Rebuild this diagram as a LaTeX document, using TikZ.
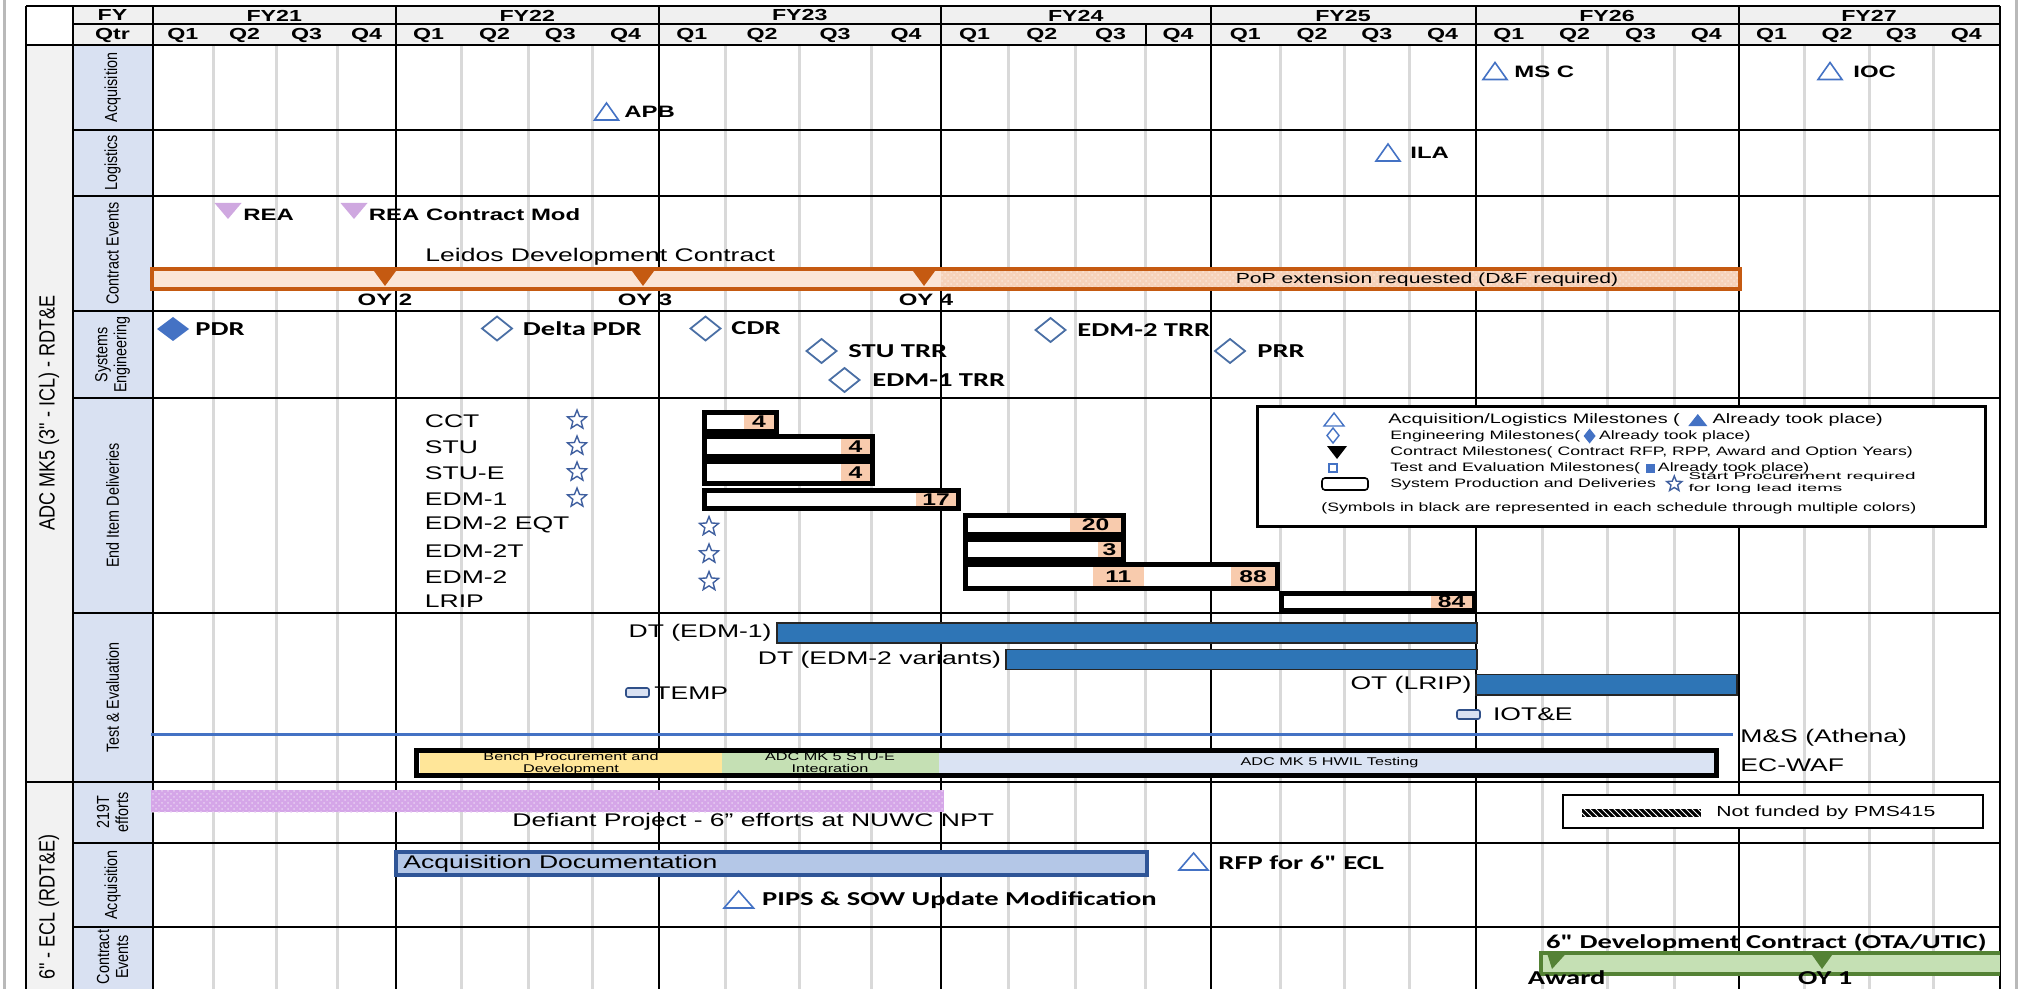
\documentclass[tikz,border=0pt]{standalone}
\usepackage{fontspec}
\setmainfont[FakeStretch=1.45]{Liberation Sans}
\newfontfamily\calfont[FakeStretch=1.45]{Carlito}
\newfontfamily\narrowfont[FakeStretch=0.82]{Liberation Sans}
\newfontfamily\widefont[FakeStretch=1.9]{Liberation Sans}
\usetikzlibrary{shapes.geometric,patterns}
\definecolor{mblue}{HTML}{4472C4}
\definecolor{dblue}{HTML}{4A6FA5}
\definecolor{starblue}{HTML}{3F5F9F}
\definecolor{lav}{HTML}{CFA8E0}
\definecolor{oran}{HTML}{C55A11}
\definecolor{lorange}{HTML}{FBE5D6}
\definecolor{horange}{HTML}{F6D2BA}
\definecolor{cellor}{HTML}{F8CBAD}
\definecolor{tblue}{HTML}{2E75B6}
\definecolor{yel}{HTML}{FFE699}
\definecolor{grn}{HTML}{C5E0B4}
\definecolor{lblue}{HTML}{DAE3F3}
\definecolor{docfill}{HTML}{B4C7E7}
\definecolor{docline}{HTML}{2F5597}
\definecolor{dgreen}{HTML}{548235}
\definecolor{purp}{HTML}{D5A6E8}
\definecolor{subfill}{HTML}{D9E1F2}
\definecolor{grpfill}{HTML}{F2F2F2}
\definecolor{hdrfill}{HTML}{F0F0F0}
\definecolor{gridgray}{HTML}{D9D9D9}
\tikzset{
  hdr/.style={font=\fontsize{8}{9.6}\selectfont\bfseries, inner sep=0pt},
  lbl/.style={font=\fontsize{9.15}{11}\selectfont, inner sep=0pt},
  blbl/.style={font=\fontsize{8.25}{10}\selectfont\bfseries, inner sep=0pt},
  cal/.style={font=\calfont\bfseries\fontsize{9.85}{12}\selectfont, inner sep=0pt},
  sublbl/.style={font=\narrowfont\fontsize{8.75}{9.5}\selectfont, inner sep=0pt, rotate=90, align=center},
  grplbl/.style={font=\narrowfont\fontsize{11}{13}\selectfont, inner sep=0pt, rotate=90},
  numtxt/.style={font=\fontsize{8.5}{10}\selectfont\bfseries, inner sep=0pt},
  lgA/.style={font=\fontsize{6.85}{8}\selectfont, inner sep=0pt, anchor=west},
  lgB/.style={font=\fontsize{6.1}{7}\selectfont, inner sep=0pt, anchor=west},
  lgC/.style={font=\widefont\fontsize{4.95}{4.6}\selectfont, inner sep=0pt, anchor=west, align=left},
  smalltxt/.style={font=\fontsize{5.6}{5.9}\selectfont, inner sep=0pt, align=center},
  poptxt/.style={font=\fontsize{7.3}{8}\selectfont, inner sep=0pt},
  gridl/.style={gridgray, line width=1.5pt},
  blk/.style={black, line width=1pt},
  mtri/.style={mblue, line width=0.8pt, fill=white},
  mdia/.style={dblue, line width=0.9pt, fill=white},
  ebar/.style={draw=black, line width=2.5pt, fill=white},
  tbar/.style={fill=tblue, draw=black!85, line width=0.9pt},
  pstar/.style={star, star points=5, star point ratio=2.3, draw=starblue, line width=0.7pt, minimum size=10pt, inner sep=0pt},
}
\begin{document}
\begin{tikzpicture}[x=0.5pt,y=-0.5pt]
\useasboundingbox (0,0) rectangle (2021,989);
\clip (0,0) rectangle (2021,989);
% page borders
\draw[gray!55, line width=1.5pt] (4,0) -- (4,989);
\draw[gray!55, line width=1.5pt] (2016,0) -- (2016,989);
% fills
\fill[hdrfill] (73,6) rectangle (1999.5,45);
\fill[grpfill] (26,45) rectangle (73,989);
\fill[subfill] (73,45) rectangle (152.5,989);
% grid
\foreach \x in {213,276,337,461,528,592.5,725,799,871,1008,1075.5,1145.5,1280,1344,1409.5,1542,1607,1674,1804.5,1869.5,1933}
  \draw[gridl] (\x,45) -- (\x,989);
\foreach \x in {26,73,152.5,396,658.5,941,1210.5,1475.5,1738.5,1999.5}
  \draw[blk] (\x,6) -- (\x,989);
\draw[blk] (26,6) -- (1999.5,6);
\draw[blk] (73,24.5) -- (1999.5,24.5);
\draw[blk] (26,45) -- (1999.5,45);
\draw[blk] (1145.5,24.5) -- (1145.5,45);
\foreach \y in {130,196,311,398,613,843,927}
  \draw[blk] (73,\y) -- (1999.5,\y);
\draw[blk] (26,782) -- (1999.5,782);
% header text
\node[hdr] (fy) at (112.5,15.5) {FY};
\node[hdr] (qtr) at (112.5,35) {Qtr};
\foreach \a/\b/\t in {152.5/396/FY21,396/658.5/FY22,658.5/941/FY23,941/1210.5/FY24,1210.5/1475.5/FY25,1475.5/1738.5/FY26,1738.5/1999.5/FY27}
  \node[hdr] (h\t) at ({(\a+\b)/2},15.5) {\t};
\foreach \a/\b/\q [count=\i] in {152.5/213/Q1,213/276/Q2,276/337/Q3,337/396/Q4,396/461/Q1,461/528/Q2,528/592.5/Q3,592.5/658.5/Q4,658.5/725/Q1,725/799/Q2,799/871/Q3,871/941/Q4,941/1008/Q1,1008/1075.5/Q2,1075.5/1145.5/Q3,1145.5/1210.5/Q4,1210.5/1280/Q1,1280/1344/Q2,1344/1409.5/Q3,1409.5/1475.5/Q4,1475.5/1542/Q1,1542/1607/Q2,1607/1674/Q3,1674/1738.5/Q4,1738.5/1804.5/Q1,1804.5/1869.5/Q2,1869.5/1933/Q3,1933/1999.5/Q4}
  \node[hdr] (q\i) at ({(\a+\b)/2},35) {\q};
% left labels
\node[grplbl] (g1) at (49,413) {ADC MK5 (3" - ICL) - RDT\&E};
\node[grplbl] (g2) at (49,907) {6" - ECL (RDT\&E)};
\node[sublbl] (s1) at (112.5,87.5) {Acquisition};
\node[sublbl] (s2) at (112.5,163) {Logistics};
\node[sublbl] (s3) at (112.5,253.5) {Contract Events};
\node[sublbl] (s4) at (112.5,354.5) {Systems\\Engineering};
\node[sublbl] (s5) at (112.5,505.5) {End Item Deliveries};
\node[sublbl] (s6) at (112.5,697.5) {Test \& Evaluation};
\node[sublbl] (s7) at (112.5,812.5) {219T\\efforts};
\node[sublbl] (s8) at (112.5,885) {Acquisition};
\node[sublbl] (s9) at (112.5,957) {Contract\\Events};
% acquisition / logistics milestones
\foreach \cx/\cy in {606.5/111.5,1495/71,1830/71,1388/152.5}
  \draw[mtri] (\cx-12,\cy+8.5) -- (\cx,\cy-8.5) -- (\cx+12,\cy+8.5) -- cycle;
\node[blbl, anchor=west] (apb) at (624,112) {APB};
\node[blbl, anchor=west] (msc) at (1514,72) {MS C};
\node[blbl, anchor=west] (ioc) at (1853,72) {IOC};
\node[blbl, anchor=west] (ila) at (1410,153) {ILA};
% contract events
\fill[lav] (214.5,203) -- (241.5,203) -- (228,219) -- cycle;
\fill[lav] (340.5,203) -- (367.5,203) -- (354,219) -- cycle;
\node[blbl, anchor=west] (rea) at (243,215) {REA};
\node[blbl, anchor=west] (reamod) at (368.5,215) {REA Contract Mod};
\node[lbl, anchor=west] (leidos) at (425,256.5) {Leidos Development Contract};
\fill[lorange] (151,269) rectangle (941,289);
\fill[horange] (941,269) rectangle (1740,289);
\fill[pattern=crosshatch dots, pattern color=lorange] (941,269) rectangle (1740,289);
\draw[oran, line width=2pt] (152,269) rectangle (1740,289);
\foreach \cx in {385,643,924}
  \fill[oran] (\cx-12.5,269) -- (\cx+12.5,269) -- (\cx,286) -- cycle;
\node[blbl] (oy2) at (385,300) {OY 2};
\node[blbl] (oy3) at (645,300) {OY 3};
\node[blbl] (oy4) at (926,300) {OY 4};
\node[poptxt] (pop) at (1427,280) {PoP extension requested (D\&F required)};
% systems engineering
\fill[mblue] (157,329) -- (173,317) -- (189,329) -- (173,341) -- cycle;
\foreach \cx/\cy in {497/328.5,705.5/328.5,821.5/351,844.5/380,1050.5/330,1230/351}
  \draw[mdia] (\cx-15,\cy) -- (\cx,\cy-12) -- (\cx+15,\cy) -- (\cx,\cy+12) -- cycle;
\node[cal, anchor=west] (pdr) at (195,329) {PDR};
\node[cal, anchor=west] (dpdr) at (522.5,328.5) {Delta PDR};
\node[cal, anchor=west] (cdr) at (731,328.5) {CDR};
\node[cal, anchor=west] (sturr) at (848,351.5) {STU TRR};
\node[cal, anchor=west] (edm1trr) at (872,380) {EDM-1 TRR};
\node[cal, anchor=west] (edm2trr) at (1077,330) {EDM-2 TRR};
\node[cal, anchor=west] (prr) at (1257,351.5) {PRR};
% end item deliveries
\node[lbl, anchor=west] (e1) at (424.5,421) {CCT};
\node[lbl, anchor=west] (e2) at (424.5,447) {STU};
\node[lbl, anchor=west] (e3) at (424.5,473) {STU-E};
\node[lbl, anchor=west] (e4) at (424.5,499) {EDM-1};
\node[lbl, anchor=west] (e5) at (424.5,524.5) {EDM-2 EQT};
\node[lbl, anchor=west] (e6) at (424.5,551) {EDM-2T};
\node[lbl, anchor=west] (e7) at (424.5,577) {EDM-2};
\node[lbl, anchor=west] (e8) at (424.5,601) {LRIP};
\foreach \cx/\cy [count=\i] in {577/420,577/446,577/472,577/498,709/526.5,709/554,709/581.5}
  \node[pstar] (st\i) at (\cx,\cy) {};
\draw[ebar] (704.1,412.5) rectangle (776.3,431.5);
\draw[ebar] (704.1,436.5) rectangle (872.5,456.5);
\draw[ebar] (704.1,461.5) rectangle (872.5,483);
\draw[ebar] (704.1,490.5) rectangle (958.5,508.5);
\draw[ebar] (965.5,515) rectangle (1123.5,534);
\draw[ebar] (965.5,539) rectangle (1123.5,559.5);
\draw[ebar] (965.5,564.5) rectangle (1277.5,588);
\draw[ebar] (1281.5,593) rectangle (1474.5,610.5);
\foreach \xa/\xb/\ya/\yb/\n [count=\i] in {744/773.8/415/429/4,841/870/439/454/4,841/870/464/480.5/4,916/956/493/506/17,1070/1121/517.5/531.5/20,1098/1121/541.5/557/3,1093/1143.6/567/585.5/11,1231/1275/567/585.5/88,1431/1472/595.5/608/84}
{
  \fill[cellor] (\xa,\ya) rectangle (\xb,\yb);
  \node[numtxt] (n\i) at ({(\xa+\xb)/2},{(\ya+\yb)/2}) {\n};
}
% legend
\draw[black, line width=1.5pt, fill=white] (1257,406) rectangle (1985,526);
\draw[mblue, line width=0.7pt] (1324,426) -- (1334,413) -- (1344,426) -- cycle;
\node[lgA] (lg1a) at (1388,420) {Acquisition/Logistics Milestones (};
\fill[mblue] (lg1a.east) ++(8,6) -- ++(9.5,-12) -- ++(9.5,12) -- cycle;
\node[lgA] (lg1b) at ([xshift=16pt]lg1a.east) {Already took place)};
\draw[mblue, line width=0.7pt] (1333,428) -- (1339,435.5) -- (1333,443) -- (1327,435.5) -- cycle;
\node[lgB] (lg2a) at (1390,436) {Engineering Milestones(};
\fill[mblue] (lg2a.east) ++(3,0) -- ++(6,-7.5) -- ++(6,7.5) -- ++(-6,7.5) -- cycle;
\node[lgB] (lg2b) at ([xshift=9pt]lg2a.east) {Already took place)};
\fill[black] (1327,446) -- (1347,446) -- (1337,459) -- cycle;
\node[lgB] (lg3) at (1390,452) {Contract Milestones( Contract RFP, RPP, Award and Option Years)};
\draw[mblue, line width=0.8pt] (1329,464) rectangle (1337,472);
\node[lgB] (lg4a) at (1390,468) {Test and Evaluation Milestones(};
\fill[mblue] (lg4a.east) ++(5,-4.5) rectangle ++(9,9);
\node[lgB] (lg4b) at ([xshift=8.5pt]lg4a.east) {Already took place)};
\draw[black, line width=0.8pt, rounded corners=1.5pt] (1322,478) rectangle (1368,490);
\node[lgB] (lg5a) at (1390,484) {System Production and Deliveries};
\node[pstar, minimum size=8pt] (lgstar) at ([xshift=9pt]lg5a.east) {};
\node[lgC] (lg5b) at ([xshift=16pt,yshift=0.5pt]lg5a.east) {Start Procurement required\\for long lead items};
\node[lgB] (lg6) at (1321,508) {(Symbols in black are represented in each schedule through multiple colors)};
% test & evaluation
\draw[tbar] (777,623) rectangle (1477,643);
\draw[tbar] (1006,649.5) rectangle (1477,669.5);
\draw[tbar] (1476,674.5) rectangle (1737,695);
\node[lbl, anchor=east] (dt1) at (772,633) {DT (EDM-1)};
\node[lbl, anchor=east] (dt2) at (1001.5,659.5) {DT (EDM-2 variants)};
\node[lbl, anchor=east] (ot) at (1471.8,684.5) {OT (LRIP)};
\draw[mblue!70!black, line width=0.8pt, fill=subfill, rounded corners=1pt] (626,688) rectangle (649,697);
\node[lbl, anchor=west] (temp) at (654,692.7) {TEMP};
\draw[mblue!70!black, line width=0.8pt, fill=subfill, rounded corners=1pt] (1457,710) rectangle (1480,719);
\node[lbl, anchor=west] (iote) at (1492.6,714) {IOT\&E};
\draw[mblue, line width=1.2pt] (151,734.5) -- (1733,734.5);
\node[lbl, anchor=west] (ms) at (1740,738) {M\&S (Athena)};
\node[lbl, anchor=west] (ecwaf) at (1740,765) {EC-WAF};
\fill[yel] (420,752) rectangle (722,775);
\fill[grn] (722,752) rectangle (939,775);
\fill[lblue] (939,752) rectangle (1714,775);
\draw[black, line width=2.5pt] (416.5,750.5) rectangle (1716.5,775.5);
\node[smalltxt] (bench) at (571,763.5) {Bench Procurement and\\Development};
\node[smalltxt] (stue) at (830,763.5) {ADC MK 5 STU-E\\Integration};
\node[smalltxt] (hwil) at (1329.5,763) {ADC MK 5 HWIL Testing};
% 219T efforts
\fill[purp] (151,790) rectangle (943.6,812);
\fill[pattern=crosshatch dots, pattern color=purp!55!white] (151,790) rectangle (943.6,812);
\node[lbl, anchor=west] (defiant) at (512,822) {Defiant Project - 6" efforts at NUWC NPT};
\draw[black, line width=1pt, fill=white] (1563,795) rectangle (1983,828);
\fill[black] (1581.5,808.5) rectangle (1701,817);
\fill[pattern=north west lines, pattern color=white] (1581.5,808.5) rectangle (1701,817);
\node[poptxt, anchor=west] (nf) at (1716,812.5) {Not funded by PMS415};
% acquisition 6"
\draw[docline, line width=2pt, fill=docfill] (396,852) rectangle (1146.5,875);
\node[lbl, anchor=west] (acqdoc) at (403,864) {Acquisition Documentation};
\draw[mtri] (1179,870) -- (1193.6,853) -- (1208,870) -- cycle;
\node[cal, anchor=west] (rfp) at (1218,863) {RFP for 6" ECL};
\draw[mtri] (724,908) -- (738.6,891) -- (753.5,908) -- cycle;
\node[cal, anchor=west] (pips) at (761.8,900) {PIPS \& SOW Update Modification};
% contract events 6"
\node[cal, anchor=west] (devc) at (1545.7,942.7) {6" Development Contract (OTA/UTIC)};
\fill[grn] (1539,952) rectangle (2000,975);
\draw[dgreen, line width=2pt] (2000,953) -- (1541,953) -- (1541,974) -- (2000,974);
\fill[dgreen] (1547,953) -- (1566.5,953) -- (1552,969) -- cycle;
\fill[dgreen] (1810.7,953) -- (1833.5,953) -- (1822,969) -- cycle;
\node[cal, anchor=west] (award) at (1527.5,978) {Award};
\node[cal, anchor=west] (oy1) at (1797.7,978) {OY 1};
\end{tikzpicture}
\end{document}
